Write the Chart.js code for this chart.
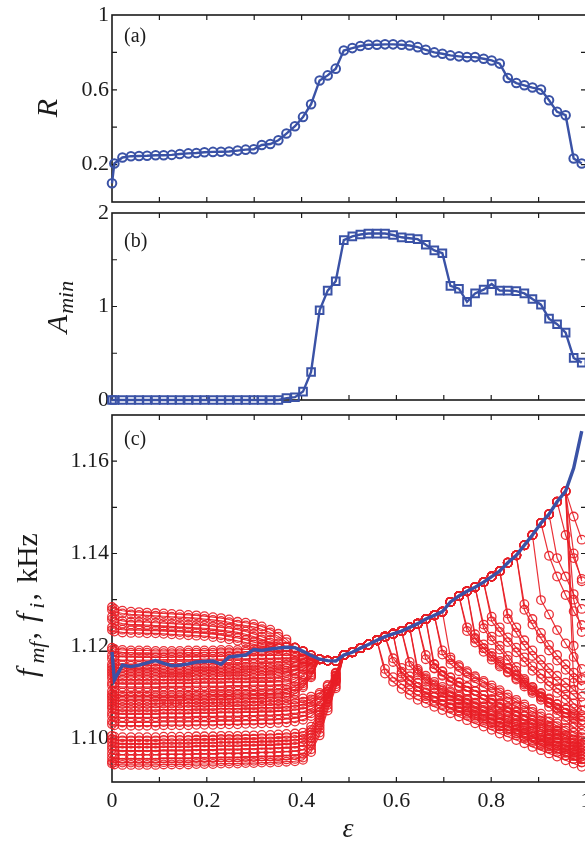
<!DOCTYPE html>
<html>
<head>
<meta charset="utf-8">
<script src="https://cdn.jsdelivr.net/npm/chart.js@4.4.0/dist/chart.umd.min.js"></script>
<style>
  html, body { margin: 0; padding: 0; background: #fff; overflow: hidden; }
  body { width: 585px; height: 841px; position: relative; }
  canvas { position: absolute; left: 0; }
  #chartA { top: 0; }
  #chartB { top: 195px; }
  #chartC { top: 395px; }
</style>
</head>
<body>
<canvas id="chartA" width="600" height="210"></canvas>
<canvas id="chartB" width="600" height="220"></canvas>
<canvas id="chartC" width="600" height="446"></canvas>
<script>
// ===== Data =====
const eps = [0, 0.005, 0.022, 0.040, 0.057, 0.074, 0.092, 0.109, 0.126, 0.143,
  0.161, 0.178, 0.195, 0.213, 0.230, 0.247, 0.265, 0.282, 0.299, 0.316,
  0.334, 0.351, 0.368, 0.386, 0.403, 0.420, 0.438, 0.455, 0.472, 0.489,
  0.507, 0.524, 0.541, 0.559, 0.576, 0.593, 0.611, 0.628, 0.645, 0.662,
  0.680, 0.697, 0.714, 0.732, 0.749, 0.766, 0.784, 0.801, 0.818, 0.835,
  0.853, 0.870, 0.887, 0.905, 0.922, 0.939, 0.957, 0.974, 0.991];

// (a) order parameter R
const rValues = [0.10, 0.206, 0.238, 0.245, 0.246, 0.247, 0.25, 0.25, 0.252, 0.257,
  0.26, 0.262, 0.266, 0.268, 0.269, 0.27, 0.275, 0.28, 0.282, 0.305,
  0.31, 0.33, 0.366, 0.405, 0.455, 0.523, 0.65, 0.677, 0.713, 0.81,
  0.823, 0.834, 0.841, 0.841, 0.843, 0.843, 0.841, 0.837, 0.828, 0.814,
  0.80, 0.793, 0.784, 0.779, 0.775, 0.775, 0.766, 0.757, 0.74, 0.663,
  0.636, 0.624, 0.612, 0.601, 0.544, 0.482, 0.464, 0.233, 0.206];

// (b) A_min
const aMin = [0, 0, 0, 0, 0, 0, 0, 0, 0, 0,
  0, 0, 0, 0, 0, 0, 0, 0, 0, 0,
  0, 0, 0.02, 0.03, 0.09, 0.30, 0.96, 1.17, 1.27, 1.71,
  1.75, 1.77, 1.78, 1.78, 1.78, 1.765, 1.74, 1.73, 1.72, 1.66,
  1.60, 1.57, 1.22, 1.19, 1.05, 1.14, 1.18, 1.24, 1.17, 1.17,
  1.165, 1.14, 1.08, 1.02, 0.87, 0.81, 0.72, 0.45, 0.40];

// (c) mean-field frequency f_mf, kHz
const fmf = [1.1187, 1.1126, 1.1158, 1.1155, 1.1158, 1.1163, 1.1168, 1.1162, 1.1157, 1.1158,
  1.1161, 1.1165, 1.1166, 1.1167, 1.1160, 1.1176, 1.1178, 1.1180, 1.1192, 1.1190,
  1.1193, 1.1195, 1.1197, 1.1196, 1.1188, 1.1179, 1.1171, 1.1168, 1.1167, 1.1180,
  1.1186, 1.1195, 1.1203, 1.1212, 1.1220, 1.1226, 1.1232, 1.1240, 1.1248, 1.1258,
  1.1266, 1.1274, 1.1295, 1.1308, 1.1318, 1.1327, 1.1338, 1.1350, 1.1362, 1.1380,
  1.1396, 1.1418, 1.1440, 1.1466, 1.1485, 1.1512, 1.1535, 1.1585, 1.1665];

// (c) oscillator frequencies f_i before locking (from eps[0] on)
const fiLeft = [
  [1.1284, 1.1280, 1.1276, 1.1274, 1.1273, 1.1272, 1.1271, 1.1270, 1.1269, 1.1268, 1.1267, 1.1266, 1.1264, 1.1262, 1.1260, 1.1257, 1.1252, 1.1250, 1.1247, 1.1242, 1.1235, 1.1226, 1.1214],
  [1.1263, 1.1258, 1.1254, 1.1252, 1.1252, 1.1251, 1.1250, 1.1249, 1.1248, 1.1247, 1.1246, 1.1245, 1.1244, 1.1242, 1.1240, 1.1238, 1.1235, 1.1231, 1.1226, 1.1220, 1.1213, 1.1205],
  [1.1240, 1.1237, 1.1235, 1.1234, 1.1234, 1.1233, 1.1233, 1.1232, 1.1231, 1.1230, 1.1229, 1.1228, 1.1227, 1.1225, 1.1223, 1.1220, 1.1217, 1.1213, 1.1208, 1.1203, 1.1199],
  [1.1196, 1.1193, 1.1191, 1.1190, 1.1190, 1.1190, 1.1189, 1.1189, 1.1189, 1.1189, 1.1190, 1.1190, 1.1190, 1.1190, 1.1191, 1.1191, 1.1191, 1.1192],
  [1.1179, 1.1177, 1.1176, 1.1176, 1.1175, 1.1175, 1.1175, 1.1175, 1.1176, 1.1176, 1.1176, 1.1176, 1.1177, 1.1177, 1.1177, 1.1178, 1.1178, 1.1178, 1.1179, 1.1179, 1.1179, 1.1180, 1.1180, 1.1179, 1.1176, 1.1173],
  [1.1160, 1.1158, 1.1158, 1.1157, 1.1157, 1.1157, 1.1157, 1.1158, 1.1158, 1.1158, 1.1158, 1.1159, 1.1159, 1.1159, 1.1160, 1.1160, 1.1160, 1.1161, 1.1161, 1.1162, 1.1162, 1.1163, 1.1164, 1.1167, 1.1172],
  [1.1142, 1.1140, 1.1139, 1.1139, 1.1139, 1.1139, 1.1139, 1.1140, 1.1140, 1.1140, 1.1140, 1.1141, 1.1141, 1.1141, 1.1142, 1.1142, 1.1142, 1.1143, 1.1143, 1.1144, 1.1144, 1.1145, 1.1146, 1.1149, 1.1156, 1.1165],
  [1.1130, 1.1128, 1.1127, 1.1127, 1.1127, 1.1127, 1.1127, 1.1127, 1.1128, 1.1128, 1.1128, 1.1128, 1.1129, 1.1129, 1.1129, 1.1130, 1.1130, 1.1130, 1.1131, 1.1131, 1.1132, 1.1133, 1.1135, 1.1140, 1.1149, 1.1160],
  [1.1120, 1.1118, 1.1117, 1.1117, 1.1117, 1.1117, 1.1117, 1.1118, 1.1118, 1.1118, 1.1118, 1.1119, 1.1119, 1.1119, 1.1119, 1.1120, 1.1120, 1.1120, 1.1121, 1.1121, 1.1121, 1.1122, 1.1122, 1.1128, 1.1138, 1.1152],
  [1.1102, 1.1100, 1.1099, 1.1099, 1.1099, 1.1099, 1.1100, 1.1100, 1.1100, 1.1100, 1.1101, 1.1101, 1.1101, 1.1102, 1.1102, 1.1102, 1.1103, 1.1103, 1.1103, 1.1104, 1.1104, 1.1105, 1.1105, 1.1112, 1.1124, 1.1142],
  [1.1084, 1.1082, 1.1081, 1.1081, 1.1081, 1.1081, 1.1082, 1.1082, 1.1082, 1.1082, 1.1083, 1.1083, 1.1083, 1.1084, 1.1084, 1.1084, 1.1085, 1.1085, 1.1086, 1.1086, 1.1087, 1.1087, 1.1088, 1.1096, 1.1110, 1.1132],
  [1.1070, 1.1068, 1.1067, 1.1067, 1.1067, 1.1067, 1.1067, 1.1068, 1.1068, 1.1068, 1.1068, 1.1069, 1.1069, 1.1069, 1.1070, 1.1070, 1.1070, 1.1071, 1.1071, 1.1072, 1.1072, 1.1073, 1.1074, 1.1076, 1.1079, 1.1084, 1.1094, 1.1112, 1.1140],
  [1.1055, 1.1053, 1.1052, 1.1052, 1.1052, 1.1052, 1.1052, 1.1053, 1.1053, 1.1053, 1.1053, 1.1054, 1.1054, 1.1054, 1.1055, 1.1055, 1.1055, 1.1056, 1.1056, 1.1057, 1.1057, 1.1058, 1.1059, 1.1061, 1.1064, 1.1069, 1.1080, 1.1100, 1.1130],
  [1.1037, 1.1035, 1.1034, 1.1034, 1.1034, 1.1034, 1.1034, 1.1035, 1.1035, 1.1035, 1.1035, 1.1036, 1.1036, 1.1036, 1.1037, 1.1037, 1.1037, 1.1038, 1.1038, 1.1039, 1.1039, 1.1040, 1.1041, 1.1043, 1.1047, 1.1054, 1.1067, 1.1090, 1.1125],
  [1.1005, 1.1003, 1.1002, 1.1002, 1.1002, 1.1002, 1.1002, 1.1003, 1.1003, 1.1003, 1.1003, 1.1004, 1.1004, 1.1004, 1.1005, 1.1005, 1.1005, 1.1006, 1.1006, 1.1007, 1.1007, 1.1008, 1.1009, 1.1010, 1.1012, 1.1025, 1.1056, 1.1100, 1.1140],
  [1.0998, 1.0996, 1.0995, 1.0995, 1.0995, 1.0995, 1.0995, 1.0996, 1.0996, 1.0996, 1.0996, 1.0997, 1.0997, 1.0997, 1.0998, 1.0998, 1.0998, 1.0999, 1.0999, 1.1000, 1.1000, 1.1001, 1.1002, 1.1003, 1.1005, 1.1018, 1.1050, 1.1095, 1.1136],
  [1.0991, 1.0989, 1.0988, 1.0988, 1.0988, 1.0988, 1.0988, 1.0989, 1.0989, 1.0989, 1.0989, 1.0990, 1.0990, 1.0990, 1.0991, 1.0991, 1.0991, 1.0992, 1.0992, 1.0993, 1.0993, 1.0994, 1.0995, 1.0996, 1.0998, 1.1012, 1.1044, 1.1091, 1.1133],
  [1.0983, 1.0981, 1.0980, 1.0980, 1.0980, 1.0980, 1.0980, 1.0981, 1.0981, 1.0981, 1.0981, 1.0982, 1.0982, 1.0982, 1.0983, 1.0983, 1.0983, 1.0984, 1.0984, 1.0985, 1.0985, 1.0986, 1.0987, 1.0988, 1.0991, 1.1006, 1.1039, 1.1087, 1.1130],
  [1.0976, 1.0974, 1.0973, 1.0973, 1.0973, 1.0973, 1.0973, 1.0974, 1.0974, 1.0974, 1.0974, 1.0975, 1.0975, 1.0975, 1.0976, 1.0976, 1.0976, 1.0977, 1.0977, 1.0978, 1.0978, 1.0979, 1.0980, 1.0981, 1.0984, 1.1000, 1.1034, 1.1083, 1.1127],
  [1.0967, 1.0965, 1.0964, 1.0964, 1.0964, 1.0964, 1.0964, 1.0965, 1.0965, 1.0965, 1.0965, 1.0966, 1.0966, 1.0966, 1.0967, 1.0967, 1.0967, 1.0968, 1.0968, 1.0969, 1.0969, 1.0970, 1.0971, 1.0972, 1.0975, 1.0992, 1.1027, 1.1078, 1.1122],
  [1.0958, 1.0956, 1.0955, 1.0955, 1.0955, 1.0955, 1.0955, 1.0956, 1.0956, 1.0956, 1.0956, 1.0957, 1.0957, 1.0957, 1.0958, 1.0958, 1.0958, 1.0959, 1.0959, 1.0960, 1.0960, 1.0961, 1.0962, 1.0963, 1.0966, 1.0984, 1.1020, 1.1072, 1.1117],
  [1.0950, 1.0948, 1.0947, 1.0947, 1.0947, 1.0947, 1.0947, 1.0948, 1.0948, 1.0948, 1.0948, 1.0949, 1.0949, 1.0949, 1.0950, 1.0950, 1.0950, 1.0951, 1.0951, 1.0952, 1.0952, 1.0953, 1.0954, 1.0955, 1.0958, 1.0976, 1.1012, 1.1066, 1.1112],
  [1.1278, 1.1274, 1.1270, 1.1268, 1.1267, 1.1266, 1.1265, 1.1264, 1.1263, 1.1262, 1.1261, 1.1260, 1.1258, 1.1256, 1.1254, 1.1251, 1.1246, 1.1244, 1.1241, 1.1236, 1.1229, 1.1220, 1.1208],
  [1.1257, 1.1252, 1.1248, 1.1246, 1.1246, 1.1245, 1.1244, 1.1243, 1.1242, 1.1241, 1.1240, 1.1239, 1.1238, 1.1236, 1.1234, 1.1232, 1.1229, 1.1225, 1.1220, 1.1214, 1.1207, 1.1199],
  [1.1191, 1.1188, 1.1186, 1.1185, 1.1185, 1.1185, 1.1184, 1.1184, 1.1184, 1.1184, 1.1185, 1.1185, 1.1185, 1.1185, 1.1186, 1.1186, 1.1186, 1.1187, 1.1187, 1.1187, 1.1188, 1.1188, 1.1188, 1.1186],
  [1.1154, 1.1152, 1.1152, 1.1151, 1.1151, 1.1151, 1.1151, 1.1152, 1.1152, 1.1152, 1.1152, 1.1153, 1.1153, 1.1153, 1.1154, 1.1154, 1.1154, 1.1155, 1.1155, 1.1156, 1.1156, 1.1157, 1.1159, 1.1163, 1.1170],
  [1.1114, 1.1112, 1.1111, 1.1111, 1.1111, 1.1111, 1.1111, 1.1112, 1.1112, 1.1112, 1.1112, 1.1113, 1.1113, 1.1113, 1.1113, 1.1114, 1.1114, 1.1114, 1.1115, 1.1115, 1.1115, 1.1116, 1.1117, 1.1123, 1.1134, 1.1149],
  [1.1095, 1.1093, 1.1092, 1.1092, 1.1092, 1.1092, 1.1093, 1.1093, 1.1093, 1.1093, 1.1094, 1.1094, 1.1094, 1.1095, 1.1095, 1.1095, 1.1096, 1.1096, 1.1096, 1.1097, 1.1097, 1.1098, 1.1099, 1.1106, 1.1119, 1.1138],
  [1.1077, 1.1075, 1.1074, 1.1074, 1.1074, 1.1074, 1.1075, 1.1075, 1.1075, 1.1075, 1.1076, 1.1076, 1.1076, 1.1077, 1.1077, 1.1077, 1.1078, 1.1078, 1.1079, 1.1079, 1.1080, 1.1080, 1.1081, 1.1083, 1.1086, 1.1090, 1.1098, 1.1115, 1.1142],
  [1.1048, 1.1046, 1.1045, 1.1045, 1.1045, 1.1045, 1.1045, 1.1046, 1.1046, 1.1046, 1.1046, 1.1047, 1.1047, 1.1047, 1.1048, 1.1048, 1.1048, 1.1049, 1.1049, 1.1050, 1.1050, 1.1051, 1.1052, 1.1054, 1.1057, 1.1063, 1.1075, 1.1096, 1.1127],
  [1.1030, 1.1028, 1.1027, 1.1027, 1.1027, 1.1027, 1.1027, 1.1028, 1.1028, 1.1028, 1.1028, 1.1029, 1.1029, 1.1029, 1.1030, 1.1030, 1.1030, 1.1031, 1.1031, 1.1032, 1.1032, 1.1033, 1.1034, 1.1036, 1.1040, 1.1048, 1.1062, 1.1086, 1.1122],
  [1.1172, 1.1170, 1.1169, 1.1169, 1.1169, 1.1169, 1.1169, 1.1170, 1.1170, 1.1170, 1.1170, 1.1170, 1.1171, 1.1171, 1.1171, 1.1172, 1.1172, 1.1172, 1.1173, 1.1173, 1.1173, 1.1174, 1.1174, 1.1174, 1.1173, 1.1171],
  [1.1136, 1.1134, 1.1133, 1.1133, 1.1133, 1.1133, 1.1133, 1.1134, 1.1134, 1.1134, 1.1134, 1.1135, 1.1135, 1.1135, 1.1135, 1.1136, 1.1136, 1.1136, 1.1137, 1.1137, 1.1138, 1.1139, 1.1141, 1.1146, 1.1154, 1.1163],
  [1.1064, 1.1062, 1.1061, 1.1061, 1.1061, 1.1061, 1.1061, 1.1062, 1.1062, 1.1062, 1.1062, 1.1063, 1.1063, 1.1063, 1.1064, 1.1064, 1.1064, 1.1065, 1.1065, 1.1066, 1.1066, 1.1067, 1.1068, 1.1070, 1.1073, 1.1078, 1.1088, 1.1106, 1.1135],
  [1.1234, 1.1231, 1.1229, 1.1228, 1.1228, 1.1227, 1.1227, 1.1226, 1.1225, 1.1224, 1.1223, 1.1222, 1.1221, 1.1219, 1.1217, 1.1214, 1.1211, 1.1207, 1.1203, 1.1199, 1.1196],
  [1.0945, 1.0943, 1.0942, 1.0942, 1.0942, 1.0942, 1.0942, 1.0943, 1.0943, 1.0943, 1.0943, 1.0944, 1.0944, 1.0944, 1.0945, 1.0945, 1.0945, 1.0946, 1.0946, 1.0947, 1.0947, 1.0948, 1.0949, 1.0950, 1.0953, 1.0970, 1.1006, 1.1060, 1.1108],
  [1.1148, 1.1146, 1.1145, 1.1145, 1.1145, 1.1145, 1.1145, 1.1146, 1.1146, 1.1146, 1.1146, 1.1147, 1.1147, 1.1147, 1.1148, 1.1148, 1.1148, 1.1149, 1.1149, 1.1150, 1.1150, 1.1151, 1.1152, 1.1155, 1.1161, 1.1168],
  [1.1090, 1.1088, 1.1087, 1.1087, 1.1087, 1.1087, 1.1088, 1.1088, 1.1088, 1.1088, 1.1089, 1.1089, 1.1089, 1.1090, 1.1090, 1.1090, 1.1091, 1.1091, 1.1092, 1.1092, 1.1093, 1.1093, 1.1094, 1.1101, 1.1114, 1.1135]
];

// (c) oscillator frequencies f_i after leaving the locked cluster (up to the last eps)
const fiRight = [
  [1.1150, 1.1132, 1.1117, 1.1104, 1.1093, 1.1086, 1.1078, 1.1071, 1.1064, 1.1057, 1.1049, 1.1042, 1.1035, 1.1028, 1.1020, 1.1013, 1.1006, 1.0999, 1.0991, 1.0984, 1.0977, 1.0970, 1.0962, 1.0955, 1.0948],
  [1.1173, 1.1152, 1.1134, 1.1119, 1.1106, 1.1098, 1.1090, 1.1082, 1.1074, 1.1066, 1.1058, 1.1050, 1.1042, 1.1034, 1.1026, 1.1018, 1.1010, 1.1002, 1.0994, 1.0986, 1.0978, 1.0971, 1.0963, 1.0955],
  [1.1140, 1.1124, 1.1111, 1.1099, 1.1089, 1.1082, 1.1075, 1.1068, 1.1061, 1.1054, 1.1047, 1.1040, 1.1033, 1.1026, 1.1019, 1.1012, 1.1004, 1.0997, 1.0990, 1.0983, 1.0976, 1.0969, 1.0962],
  [1.1165, 1.1146, 1.1130, 1.1117, 1.1106, 1.1098, 1.1090, 1.1082, 1.1074, 1.1066, 1.1057, 1.1049, 1.1041, 1.1033, 1.1025, 1.1017, 1.1009, 1.1001, 1.0992, 1.0984, 1.0976, 1.0968],
  [1.1150, 1.1135, 1.1122, 1.1111, 1.1101, 1.1093, 1.1085, 1.1077, 1.1069, 1.1061, 1.1053, 1.1046, 1.1038, 1.1030, 1.1022, 1.1014, 1.1006, 1.0998, 1.0991, 1.0983, 1.0975],
  [1.1180, 1.1160, 1.1144, 1.1131, 1.1120, 1.1111, 1.1102, 1.1093, 1.1083, 1.1074, 1.1065, 1.1056, 1.1047, 1.1038, 1.1028, 1.1019, 1.1010, 1.1001, 1.0991, 1.0982],
  [1.1160, 1.1145, 1.1132, 1.1121, 1.1111, 1.1102, 1.1093, 1.1085, 1.1076, 1.1067, 1.1058, 1.1049, 1.1041, 1.1032, 1.1023, 1.1014, 1.1005, 1.0997, 1.0988],
  [1.1190, 1.1170, 1.1154, 1.1141, 1.1130, 1.1120, 1.1109, 1.1099, 1.1088, 1.1078, 1.1068, 1.1057, 1.1047, 1.1036, 1.1026, 1.1016, 1.1005, 1.0995],
  [1.1175, 1.1158, 1.1145, 1.1134, 1.1124, 1.1114, 1.1104, 1.1094, 1.1083, 1.1073, 1.1063, 1.1053, 1.1043, 1.1032, 1.1022, 1.1012, 1.1002],
  [1.1240, 1.1215, 1.1195, 1.1178, 1.1163, 1.1150, 1.1135, 1.1120, 1.1106, 1.1091, 1.1076, 1.1061, 1.1046, 1.1032, 1.1017],
  [1.1238, 1.1212, 1.1192, 1.1170, 1.1146, 1.1120, 1.1102, 1.1088, 1.1076, 1.1065, 1.1055, 1.1046, 1.1038],
  [1.1263, 1.1240, 1.1218, 1.1196, 1.1175, 1.1156, 1.1139, 1.1123, 1.1108, 1.1094, 1.1075, 1.1060],
  [1.1225, 1.1203, 1.1184, 1.1167, 1.1152, 1.1138, 1.1124, 1.1111, 1.1098, 1.1086, 1.1074, 1.1062, 1.1050, 1.1038],
  [1.1270, 1.1240, 1.1212, 1.1190, 1.1170, 1.1152, 1.1135, 1.1120, 1.1105, 1.1090],
  [1.1299, 1.1268, 1.1234, 1.1205, 1.1176, 1.1150],
  [1.1290, 1.1258, 1.1228, 1.1202, 1.1180, 1.1160, 1.1142, 1.1126],
  [1.1390, 1.1350, 1.1312, 1.1280],
  [1.1480, 1.1430],
  [1.1400, 1.1340],
  [1.1300, 1.1230],
  [1.1200, 1.1130],
  [1.1120, 1.1060],
  [1.1140, 1.1122, 1.1107, 1.1094, 1.1083, 1.1076, 1.1068, 1.1061, 1.1054, 1.1047, 1.1039, 1.1032, 1.1025, 1.1018, 1.1010, 1.1003, 1.0996, 1.0989, 1.0981, 1.0974, 1.0967, 1.0960, 1.0952, 1.0945, 1.0938],
  [1.1165, 1.1144, 1.1126, 1.1111, 1.1098, 1.1090, 1.1082, 1.1074, 1.1066, 1.1058, 1.1050, 1.1042, 1.1034, 1.1026, 1.1018, 1.1010, 1.1002, 1.0994, 1.0986, 1.0978, 1.0970, 1.0963, 1.0955, 1.0947],
  [1.1132, 1.1116, 1.1103, 1.1091, 1.1081, 1.1074, 1.1067, 1.1060, 1.1053, 1.1046, 1.1039, 1.1032, 1.1025, 1.1018, 1.1011, 1.1004, 1.0996, 1.0989, 1.0982, 1.0975, 1.0968, 1.0961, 1.0954],
  [1.1157, 1.1138, 1.1122, 1.1109, 1.1098, 1.1090, 1.1082, 1.1074, 1.1066, 1.1058, 1.1049, 1.1041, 1.1033, 1.1025, 1.1017, 1.1009, 1.1001, 1.0993, 1.0984, 1.0976, 1.0968, 1.0960],
  [1.1142, 1.1127, 1.1114, 1.1103, 1.1093, 1.1085, 1.1077, 1.1069, 1.1061, 1.1053, 1.1045, 1.1038, 1.1030, 1.1022, 1.1014, 1.1006, 1.0998, 1.0990, 1.0983, 1.0975, 1.0967],
  [1.1171, 1.1151, 1.1135, 1.1122, 1.1111, 1.1102, 1.1093, 1.1084, 1.1074, 1.1065, 1.1056, 1.1047, 1.1038, 1.1029, 1.1019, 1.1010, 1.1001, 1.0992, 1.0982, 1.0973],
  [1.1152, 1.1137, 1.1124, 1.1113, 1.1103, 1.1094, 1.1085, 1.1077, 1.1068, 1.1059, 1.1050, 1.1041, 1.1033, 1.1024, 1.1015, 1.1006, 1.0997, 1.0989, 1.0980],
  [1.1181, 1.1161, 1.1145, 1.1132, 1.1121, 1.1111, 1.1100, 1.1090, 1.1079, 1.1069, 1.1059, 1.1048, 1.1038, 1.1027, 1.1017, 1.1007, 1.0996, 1.0986],
  [1.1232, 1.1207, 1.1187, 1.1170, 1.1155, 1.1142, 1.1127, 1.1112, 1.1098, 1.1083, 1.1068, 1.1053, 1.1038, 1.1024, 1.1009],
  [1.1217, 1.1195, 1.1176, 1.1159, 1.1144, 1.1130, 1.1116, 1.1103, 1.1090, 1.1078, 1.1066, 1.1054, 1.1042, 1.1030],
  [1.1246, 1.1220, 1.1200, 1.1178, 1.1154, 1.1128, 1.1110, 1.1096, 1.1084, 1.1073, 1.1063, 1.1054, 1.1046],
  [1.1253, 1.1230, 1.1208, 1.1186, 1.1165, 1.1146, 1.1129, 1.1113, 1.1098, 1.1084, 1.1065, 1.1050],
  [1.1258, 1.1228, 1.1200, 1.1178, 1.1158, 1.1140, 1.1123, 1.1108, 1.1093, 1.1078],
  [1.1278, 1.1246, 1.1216, 1.1190, 1.1168, 1.1148, 1.1130, 1.1114],
  [1.1395, 1.1350, 1.1310, 1.1275, 1.1245],
  [1.1440, 1.1390, 1.1345]
];

// ===== Ticks =====
const xTickLabels = [0, 0.2, 0.4, 0.6, 0.8, 1];
const xTickMarks = [0.1, 0.2, 0.3, 0.4, 0.5, 0.6, 0.7, 0.8, 0.9];
const rTickLabels = [0.2, 0.6, 1];
const rTickMarks = [0.2, 0.4, 0.6, 0.8];
const aTickLabels = [0, 1, 2];
const aTickMarks = [0.5, 1, 1.5];
const fTickLabels = [1.10, 1.12, 1.14, 1.16];
const fTickMarks = [1.10, 1.11, 1.12, 1.13, 1.14, 1.15, 1.16];

// ===== Style =====
const SERIF = '"Liberation Serif", "DejaVu Serif", serif';
const INK = '#1b1b1b';
const BLUE = '#3a52a6';
const RED = 'rgba(232, 30, 38, 0.92)';

function series(values) {
  return eps.map((e, i) => ({ x: e, y: values[i] }));
}

// a locked oscillator runs at the mean-field frequency
function oscillator(k) {
  const left = fiLeft[k], right = fiRight[k];
  return left.concat(fmf.slice(left.length, eps.length - right.length), right);
}

// runs: [text, font, baseline shift, extra gap after]
function drawRuns(ctx, runs, x, y, rotate) {
  ctx.save();
  ctx.translate(x, y);
  if (rotate) ctx.rotate(-Math.PI / 2);
  ctx.fillStyle = INK;
  ctx.textAlign = 'left';
  ctx.textBaseline = 'alphabetic';
  const widths = runs.map(r => { ctx.font = r[1]; return ctx.measureText(r[0]).width + (r[3] || 0); });
  let cx = -widths.reduce((s, w) => s + w, 0) / 2;
  runs.forEach((r, i) => {
    ctx.font = r[1];
    ctx.fillText(r[0], cx, r[2]);
    cx += widths[i];
  });
  ctx.restore();
}

// box with inward ticks on all four sides
function framePlugin(yMarks) {
  return {
    id: 'frame',
    beforeDatasetsDraw(chart) {
      const { ctx, chartArea: a, scales: { x, y } } = chart;
      ctx.save();
      ctx.strokeStyle = INK;
      ctx.lineWidth = 1.6;
      ctx.strokeRect(a.left, a.top, a.width, a.height);
      ctx.lineWidth = 1.2;
      ctx.beginPath();
      xTickMarks.forEach(v => {
        const px = x.getPixelForValue(v);
        ctx.moveTo(px, a.bottom); ctx.lineTo(px, a.bottom - 5);
        ctx.moveTo(px, a.top); ctx.lineTo(px, a.top + 5);
      });
      yMarks.forEach(v => {
        const py = y.getPixelForValue(v);
        ctx.moveTo(a.left, py); ctx.lineTo(a.left + 5, py);
        ctx.moveTo(a.right, py); ctx.lineTo(a.right - 5, py);
      });
      ctx.stroke();
      ctx.restore();
    }
  };
}

function textPlugin(t) {
  return {
    id: 'panelText',
    afterDraw(chart) {
      const ctx = chart.ctx;
      ctx.save();
      ctx.fillStyle = INK;
      ctx.font = '20px ' + SERIF;
      ctx.textBaseline = 'alphabetic';
      ctx.fillText(t.letter, 124, t.letterY);
      ctx.restore();
      drawRuns(ctx, t.yTitle, t.yTitleX, t.yTitleY, true);
      if (t.xTitle) drawRuns(ctx, t.xTitle, 348, t.xTitleY, false);
    }
  };
}

function zeroPadding(s) {
  s.paddingTop = 0; s.paddingBottom = 0; s.paddingLeft = 0; s.paddingRight = 0;
}

function panelOptions(cfg) {
  return {
    responsive: false,
    animation: false,
    devicePixelRatio: 1,
    events: [],
    layout: { padding: { top: cfg.padTop, right: 14, left: 0, bottom: 0 } },
    plugins: { legend: { display: false }, tooltip: { enabled: false } },
    scales: {
      x: {
        type: 'linear', min: 0, max: 1,
        grid: { display: false, drawTicks: false },
        border: { display: false },
        ticks: {
          display: cfg.showX, padding: 6, color: INK, autoSkip: false, maxRotation: 0,
          font: { family: SERIF, size: 22 },
          callback: v => (v === 0 || v === 1) ? String(v) : v.toFixed(1)
        },
        afterBuildTicks: s => { s.ticks = xTickLabels.map(v => ({ value: v })); },
        afterFit: s => { zeroPadding(s); s.height = cfg.xHeight; }
      },
      y: {
        type: 'linear', min: cfg.yMin, max: cfg.yMax,
        grid: { display: false, drawTicks: false },
        border: { display: false },
        ticks: {
          padding: 3, color: INK, autoSkip: false,
          font: { family: SERIF, size: 22 },
          callback: cfg.yFormat
        },
        afterBuildTicks: s => { s.ticks = cfg.yLabels.map(v => ({ value: v })); },
        afterFit: s => { zeroPadding(s); s.width = 112; }
      }
    }
  };
}

const ITAL = 'italic 30px ' + SERIF;
const SUB = 'italic 22px ' + SERIF;
const ROMAN = '30px ' + SERIF;

// ===== (a) R =====
new Chart(document.getElementById('chartA'), {
  type: 'line',
  data: {
    datasets: [{
      data: series(rValues), borderColor: BLUE, borderWidth: 2.4,
      pointStyle: 'circle', pointRadius: 4.3, pointBorderWidth: 2,
      pointBackgroundColor: 'rgba(0,0,0,0)', clip: false
    }]
  },
  options: panelOptions({
    padTop: 15, xHeight: 8, showX: false, yMin: 0, yMax: 1,
    yLabels: rTickLabels, yFormat: v => v === 1 ? '1' : v.toFixed(1)
  }),
  plugins: [framePlugin(rTickMarks), textPlugin({
    letter: '(a)', letterY: 42, yTitleX: 57, yTitleY: 108,
    yTitle: [['R', ITAL, 0]]
  })]
});

// ===== (b) A_min =====
new Chart(document.getElementById('chartB'), {
  type: 'line',
  data: {
    datasets: [{
      data: series(aMin), borderColor: BLUE, borderWidth: 2.4,
      pointStyle: 'rect', pointRadius: 5.4, pointBorderWidth: 2,
      pointBackgroundColor: 'rgba(0,0,0,0)', clip: false
    }]
  },
  options: panelOptions({
    padTop: 18, xHeight: 15, showX: false, yMin: 0, yMax: 2,
    yLabels: aTickLabels, yFormat: v => String(v)
  }),
  plugins: [framePlugin(aTickMarks), textPlugin({
    letter: '(b)', letterY: 52, yTitleX: 67, yTitleY: 112,
    yTitle: [['A', ITAL, 0, 1], ['min', SUB, 6]]
  })]
});

// ===== (c) f_mf and f_i =====
const cDatasets = [{
  data: series(fmf), borderColor: BLUE, borderWidth: 3.4,
  pointRadius: 0, clip: false
}];
fiLeft.forEach((row, k) => {
  cDatasets.push({
    data: series(oscillator(k)), borderColor: RED, borderWidth: 1.2,
    pointStyle: 'circle', pointRadius: 4.3, pointBorderWidth: 1.3,
    pointBackgroundColor: 'rgba(0,0,0,0)', clip: false
  });
});

new Chart(document.getElementById('chartC'), {
  type: 'line',
  data: { datasets: cDatasets },
  options: panelOptions({
    padTop: 20, xHeight: 59, showX: true, yMin: 1.0905, yMax: 1.17,
    yLabels: fTickLabels, yFormat: v => v.toFixed(2)
  }),
  plugins: [framePlugin(fTickMarks), textPlugin({
    letter: '(c)', letterY: 50, yTitleX: 37, yTitleY: 210,
    yTitle: [['f', ITAL, 0, 5], ['mf', SUB, 7, 2], [',', ROMAN, 0, 10], ['f', ITAL, 0, 5],
      ['i', SUB, 7, 2], [',', ROMAN, 0, 10], ['kHz', ROMAN, 0]],
    xTitleY: 442,
    xTitle: [['ε', 'italic 28px ' + SERIF, 0]]
  })]
});
</script>
</body>
</html>
